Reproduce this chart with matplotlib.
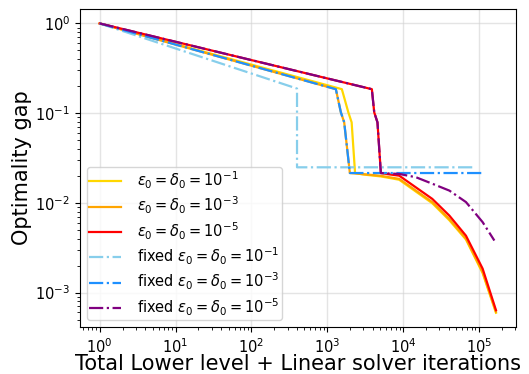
import matplotlib
matplotlib.use("Agg")
import matplotlib.pyplot as plt

# iterations / optimality gap
x_e1 = [1, 1560, 1900, 2100, 2330, 3000, 5100, 8900, 24300, 40800, 67600, 112000, 168000]
y_e1 = [1, 0.185, 0.102, 0.079, 0.0215, 0.0207, 0.0197, 0.0181, 0.0099, 0.0064, 0.0039, 0.00165, 0.000595]

x_e3 = [1, 1300, 1515, 1675, 1990, 3000, 5100, 8900, 24300, 40800, 67600, 112000, 168000]
y_e3 = [1, 0.185, 0.102, 0.079, 0.0215, 0.0209, 0.0200, 0.0185, 0.0102, 0.0066, 0.0040, 0.0017, 0.000612]

x_e5 = [1, 3880, 4170, 4600, 5100, 6500, 8900, 24300, 40800, 67600, 112000, 168000]
y_e5 = [1, 0.185, 0.102, 0.079, 0.0215, 0.0208, 0.0201, 0.01107, 0.00721, 0.0043, 0.00185, 0.000636]

x_f1 = [1, 400, 400, 90000]
y_f1 = [1, 0.188, 0.0249, 0.0249]

x_f3 = [1, 1300, 1515, 1675, 1990, 117000]
y_f3 = [1, 0.185, 0.102, 0.079, 0.0215, 0.0215]

x_f5 = [1, 3880, 4170, 4600, 5100, 8900, 14800, 24500, 40800, 67600, 112000, 160000]
y_f5 = [1, 0.185, 0.102, 0.079, 0.0215, 0.021, 0.0193, 0.0163, 0.0137, 0.0102, 0.0061, 0.0038]

fig = plt.figure(figsize=(5.29, 3.74), dpi=100)
ax = fig.add_subplot(111)
fig.subplots_adjust(left=0.151, right=0.975, bottom=0.125, top=0.976)

lab = r"$\varepsilon_0 = \delta_0 = 10^{%s}$"
ax.plot(x_e1, y_e1, color="gold", lw=1.6, label=lab % "-1")
ax.plot(x_e3, y_e3, color="orange", lw=1.6, label=lab % "-3")
ax.plot(x_e5, y_e5, color="red", lw=1.6, label=lab % "-5")
ax.plot(x_f1, y_f1, color="skyblue", lw=1.6, ls="-.", label="fixed " + lab % "-1")
ax.plot(x_f3, y_f3, color="dodgerblue", lw=1.6, ls="-.", label="fixed " + lab % "-3")
ax.plot(x_f5, y_f5, color="purple", lw=1.6, ls="-.", label="fixed " + lab % "-5")

ax.set_xscale("log")
ax.set_yscale("log")
ax.set_xlabel("Total Lower level + Linear solver iterations", fontsize=15, labelpad=-1)
ax.set_ylabel("Optimality gap", fontsize=15, labelpad=2)
ax.tick_params(labelsize=10.5)
ax.grid(True, which="major", color="lightgray", alpha=0.6, lw=1)
ax.legend(loc="lower left", fontsize=10.5, labelspacing=0.27, borderpad=0.15,
          handletextpad=1.1, handlelength=2.2)

fig.savefig("out.png", dpi=100)
